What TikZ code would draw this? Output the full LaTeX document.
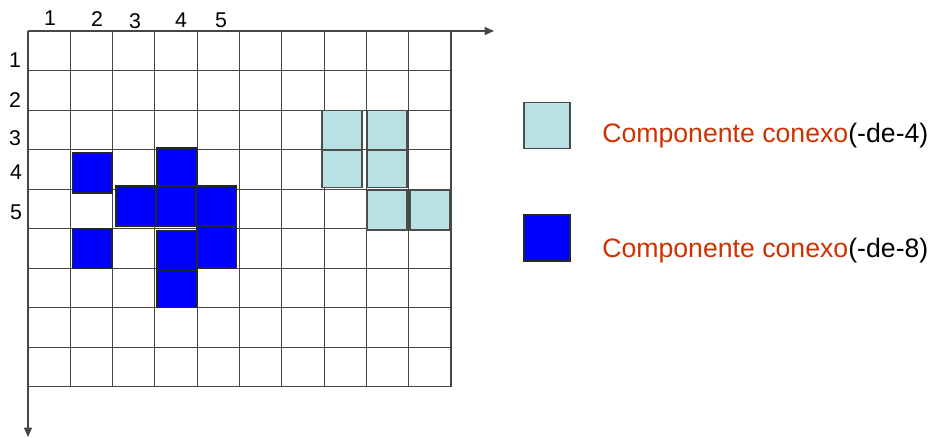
\documentclass[tikz,border=0pt]{standalone}
\usepackage{fontspec}
\setmainfont{Liberation Sans}
\usetikzlibrary{arrows.meta,positioning}
\definecolor{cellblue}{RGB}{0,0,255}
\definecolor{celllight}{RGB}{185,224,227}
\definecolor{legendred}{RGB}{204,51,0}
\definecolor{gridgray}{RGB}{70,70,70}

\begin{document}
\begin{tikzpicture}[x=0.75pt, y=-0.75pt, >={Triangle[length=7pt,width=6pt]},
    gridline/.style={draw=gridgray, line width=0.8pt},
    bluecell/.style={fill=cellblue, draw=black!85, line width=0.9pt},
    lightcell/.style={fill=celllight, draw=black!70, line width=0.9pt},
    numlabel/.style={font=\fontsize{16}{18}\selectfont, inner sep=0pt},
    legendtext/.style={font=\fontsize{20}{24}\selectfont, anchor=base west, inner sep=0pt}]
  \useasboundingbox (0,0) rectangle (932,437);
  \coordinate (origin) at (28,31);
  \coordinate (xend) at (494,31);
  \coordinate (yend) at (28,437);
  % grid
  \foreach \i in {1,...,10}
    \draw[gridline] ({28+42.3*\i},31) -- ({28+42.3*\i},386.7);
  \foreach \j in {1,...,9}
    \draw[gridline] (28,{31+39.52*\j}) -- (451,{31+39.52*\j});
  \draw[gridline,->] (origin) -- (xend);
  \draw[gridline,->] (origin) -- (yend);
  % numbers
  \node[numlabel] (c1) at (50,18) {1};
  \node[numlabel] (c2) at (97,19) {2};
  \node[numlabel] (c3) at (135,21) {3};
  \node[numlabel] (c4) at (181,20) {4};
  \node[numlabel] (c5) at (221,20) {5};
  \node[numlabel] (r1) at (15,60) {1};
  \node[numlabel] (r2) at (15,100) {2};
  \node[numlabel] (r3) at (15,138) {3};
  \node[numlabel] (r4) at (16,172) {4};
  \node[numlabel] (r5) at (16,212) {5};
  % 8-connected component
  \draw[bluecell] (72.7,153) rectangle (112,193);
  \draw[bluecell] (157,148) rectangle (197,186);
  \draw[bluecell] (116,186) rectangle (156,226);
  \draw[bluecell] (156,186) rectangle (196,226);
  \draw[bluecell] (196.5,186) rectangle (236.5,226);
  \draw[bluecell] (72.7,228.3) rectangle (112,268.3);
  \draw[bluecell] (196.5,226) rectangle (236.5,268);
  \draw[bluecell] (157,230.5) rectangle (197,270.3);
  \draw[bluecell] (157,270.3) rectangle (197,307.7);
  % 4-connected component
  \draw[lightcell] (322,110.7) rectangle (362,150);
  \draw[lightcell] (322,150) rectangle (362,187.7);
  \draw[lightcell] (367,110.7) rectangle (407,150);
  \draw[lightcell] (367,150) rectangle (407,187.7);
  \draw[lightcell] (367,190) rectangle (407,230);
  \draw[lightcell] (410,190) rectangle (450,230);
  % legend
  \node[lightcell, minimum size=34.5pt, inner sep=0pt] (key4) at (547,125.5) {};
  \node[bluecell, minimum size=34.5pt, inner sep=0pt] (key8) at (547,238) {};
  \node[legendtext] (text4) at (602,142.7) {\textcolor{legendred}{Componente conexo}(-de-4)};
  \node[legendtext] (text8) at (602,257.3) {\textcolor{legendred}{Componente conexo}(-de-8)};
\end{tikzpicture}
\end{document}
